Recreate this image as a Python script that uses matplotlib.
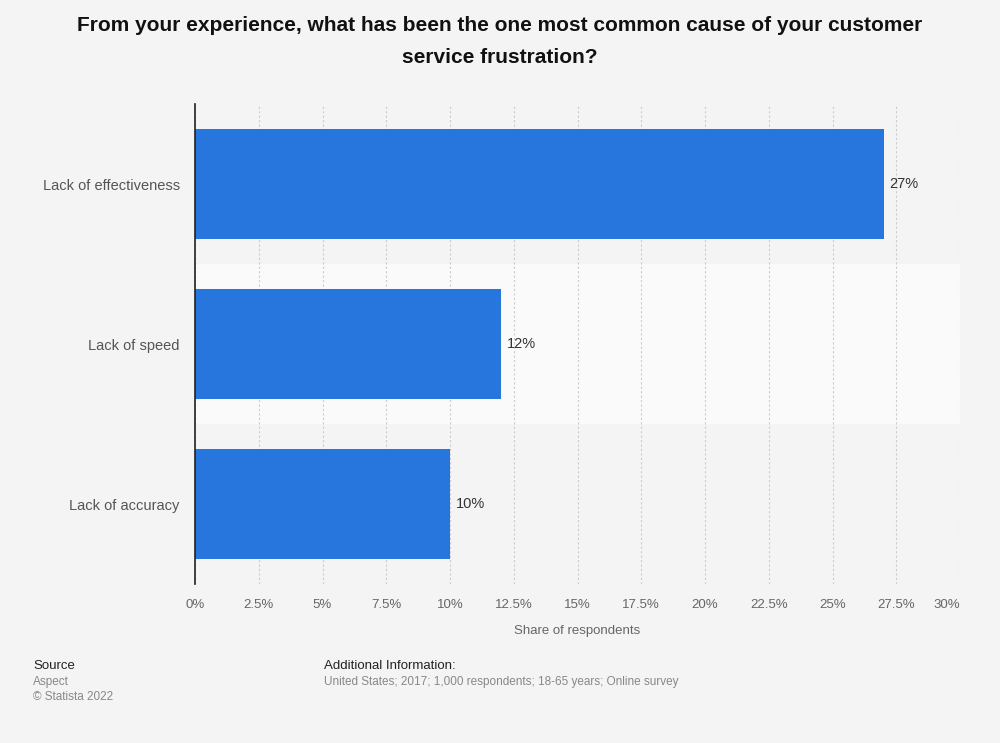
import matplotlib.pyplot as plt
from matplotlib.patches import Rectangle

plt.rcParams['font.family'] = ['Liberation Sans', 'DejaVu Sans']

categories = ['Lack of effectiveness', 'Lack of speed', 'Lack of accuracy']
values = [27, 12, 10]
ticks = [0, 2.5, 5, 7.5, 10, 12.5, 15, 17.5, 20, 22.5, 25, 27.5, 30]
tick_labels = ['0%', '2.5%', '5%', '7.5%', '10%', '12.5%', '15%', '17.5%',
               '20%', '22.5%', '25%', '27.5%', '30%']

bg = '#f4f4f4'
fig = plt.figure(figsize=(10, 7.43), dpi=100, facecolor=bg)
ax = fig.add_axes([0.195, 0.214, 0.765, 0.646])
ax.set_facecolor(bg)

n = len(categories)
ypos = list(range(n))
ax.set_ylim(n - 0.5, -0.5)
ax.set_xlim(0, 30)

# alternating row bands
for i in ypos:
    if i % 2 == 1:
        ax.add_patch(Rectangle((0, i - 0.5), 30, 1, facecolor='#fafafa',
                               edgecolor='none', zorder=0))

ax.barh(ypos, values, height=0.69, color='#2776dd', zorder=3)
for y, v in zip(ypos, values):
    ax.text(v + 0.22, y, f'{v}%', va='center', ha='left', fontsize=10.5,
            color='#333333', zorder=4)

ax.set_xticks(ticks)
ax.set_xticklabels(tick_labels)
ax.tick_params(axis='x', length=0, pad=11, labelsize=9.5, labelcolor='#666666')
ax.get_xticklabels()[-1].set_ha('right')
ax.set_yticks(ypos)
ax.set_yticklabels(categories)
ax.tick_params(axis='y', length=0, pad=11, labelsize=10.5, labelcolor='#555555')

ax.grid(axis='x', color='#cccccc', linestyle=(0, (2, 2)), linewidth=0.8, zorder=1)
ax.set_axisbelow(True)
for s in ['top', 'right', 'bottom']:
    ax.spines[s].set_visible(False)
ax.spines['left'].set_color('#222222')
ax.spines['left'].set_linewidth(1.2)
ax.spines['left'].set_zorder(5)

ax.set_xlabel('Share of respondents', fontsize=9.5, color='#666666', labelpad=10)

fig.text(0.5, 0.979, 'From your experience, what has been the one most common cause of your customer\nservice frustration?',
         ha='center', va='top', fontsize=15, fontweight='bold', color='#111111',
         linespacing=1.88)

fig.text(0.033, 0.103, 'Source', fontsize=9.5, color='#222222', va='center')
fig.text(0.033, 0.082, 'Aspect', fontsize=8.5, color='#888888', va='center')
fig.text(0.033, 0.062, '\u00a9 Statista 2022', fontsize=8.5, color='#888888', va='center')
fig.text(0.324, 0.103, 'Additional Information:', fontsize=9.5, color='#222222', va='center')
fig.text(0.324, 0.082, 'United States; 2017; 1,000 respondents; 18-65 years; Online survey',
         fontsize=8.5, color='#888888', va='center')

fig.savefig('out.png', dpi=100, facecolor=bg)
